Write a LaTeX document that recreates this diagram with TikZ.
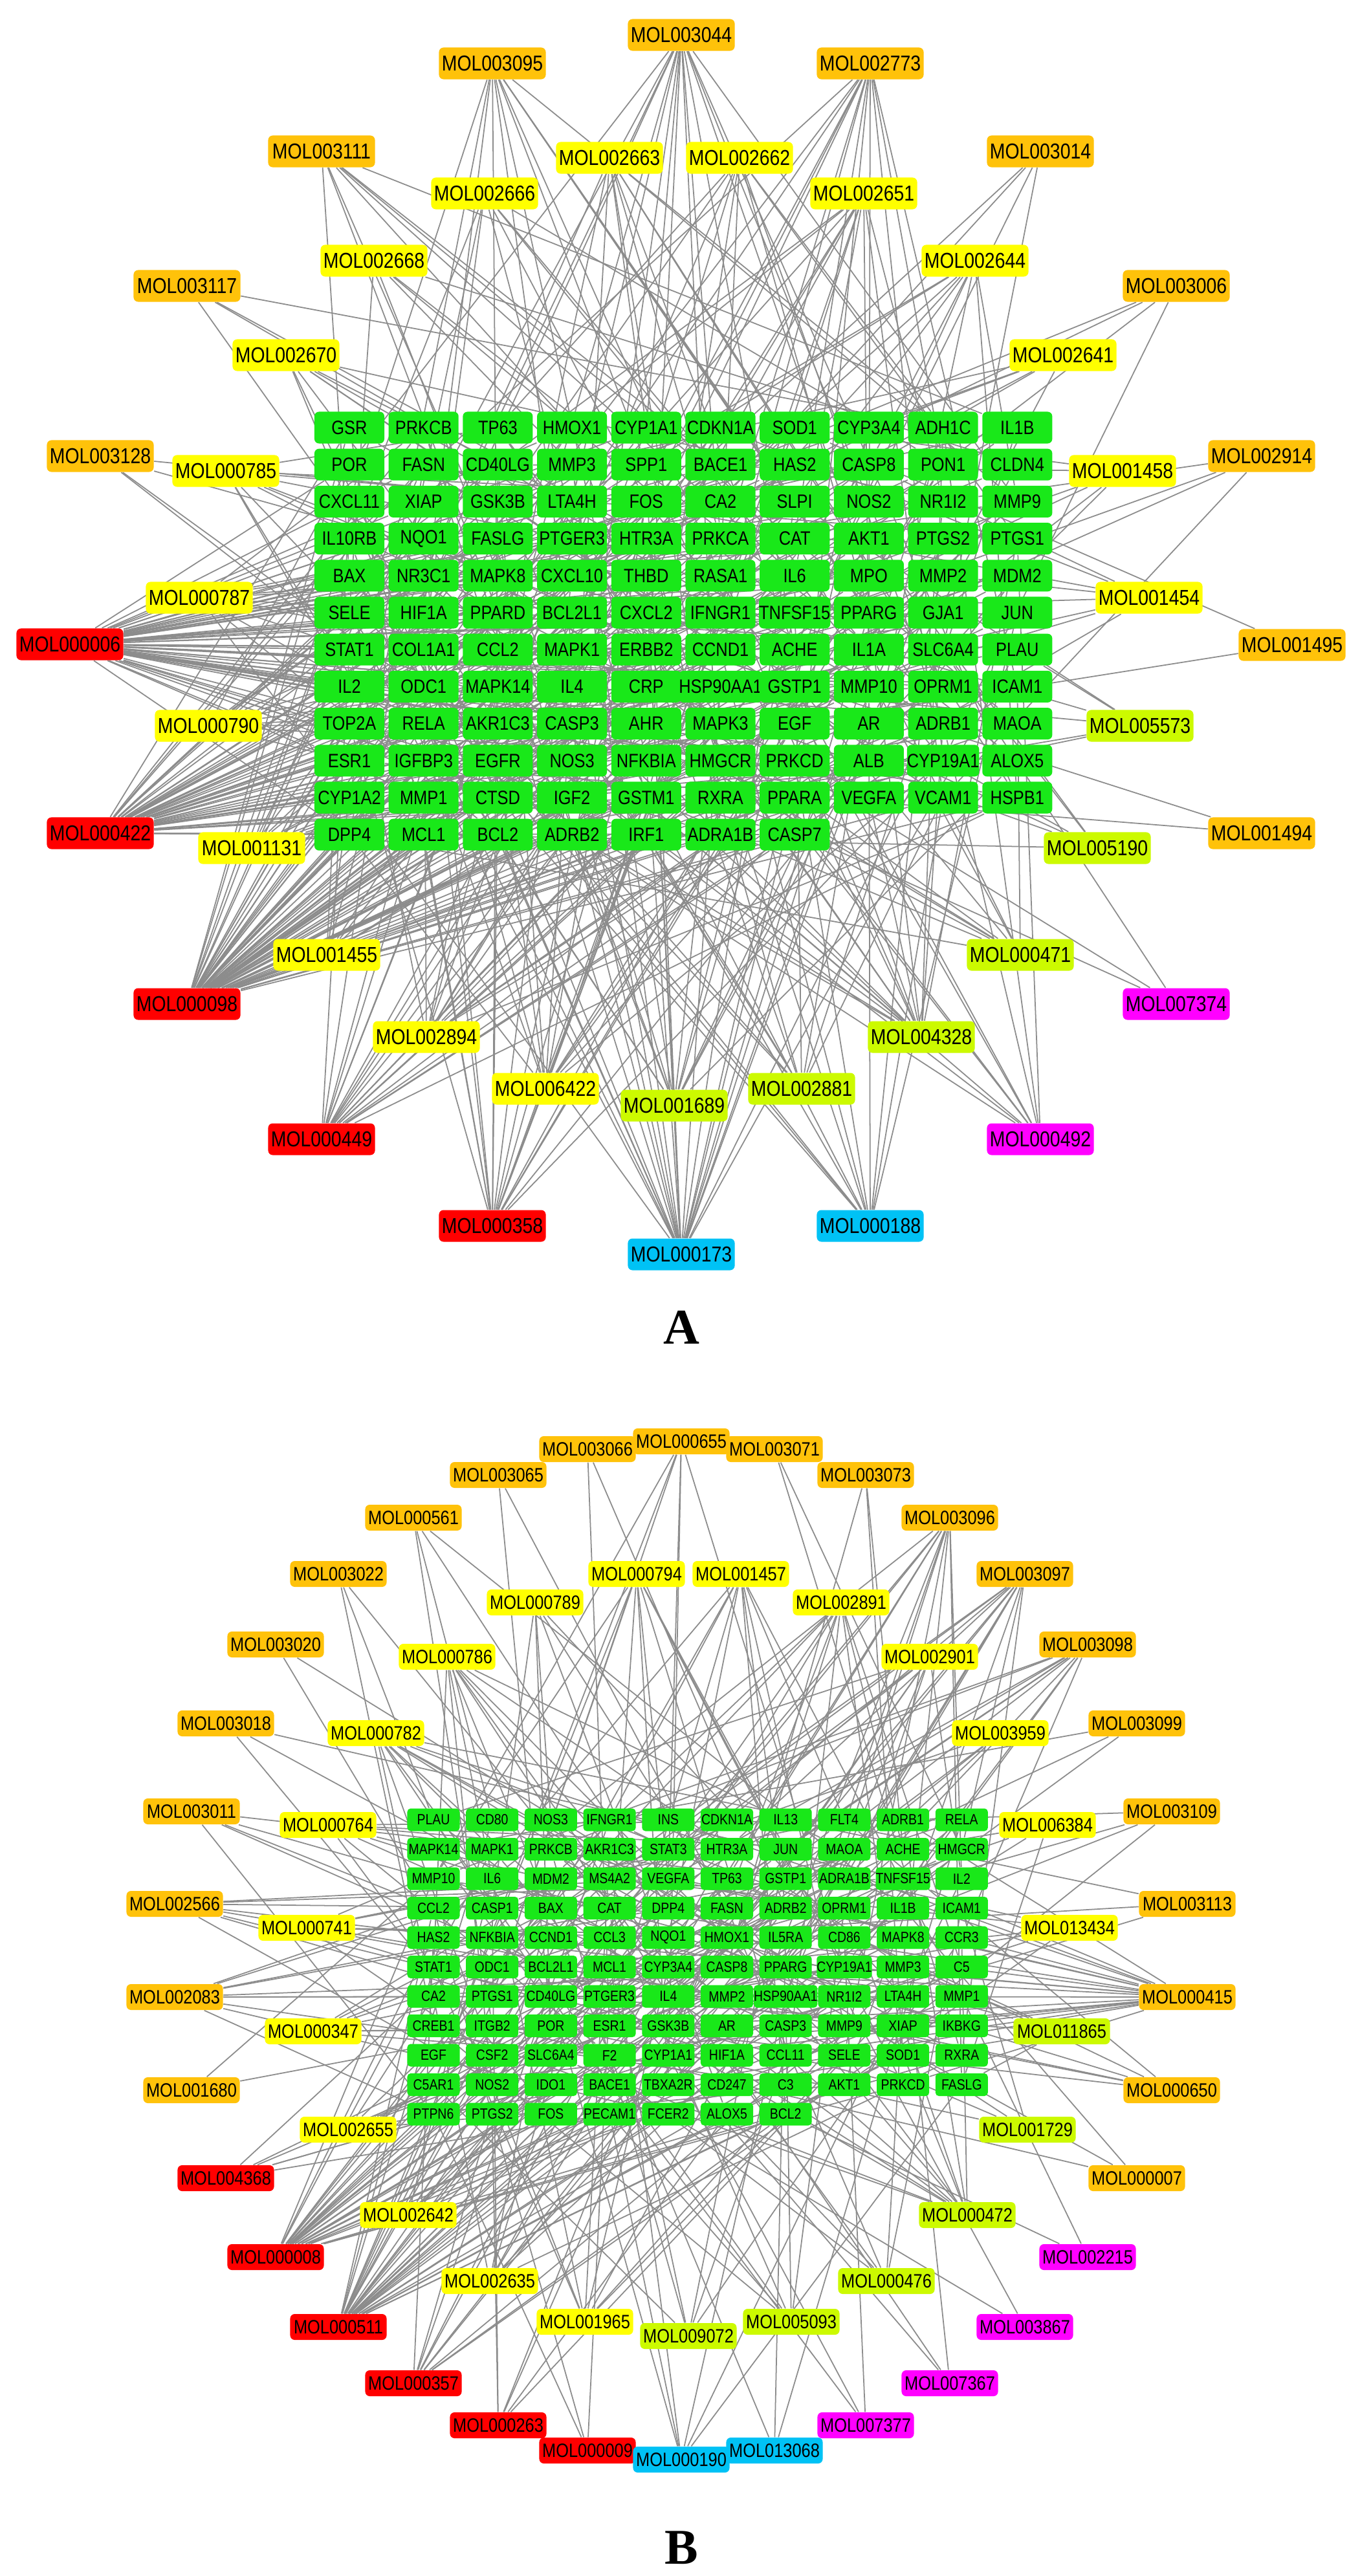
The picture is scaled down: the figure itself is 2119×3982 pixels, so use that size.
\documentclass[tikz,border=0pt]{standalone}
\usepackage{fontspec}
\newfontfamily\nar{Liberation Sans}[FakeStretch=0.85]
\newfontfamily\ser{Liberation Serif}
\pgfdeclarelayer{bg}
\pgfdeclarelayer{paper}
\pgfsetlayers{paper,bg,main}
\definecolor{gc}{RGB}{25,232,25}
\definecolor{org}{RGB}{255,194,10}
\definecolor{yel}{RGB}{255,255,0}
\definecolor{ygr}{RGB}{204,250,0}
\definecolor{red}{RGB}{255,0,0}
\definecolor{mag}{RGB}{255,0,255}
\definecolor{cya}{RGB}{0,194,245}
\definecolor{edg}{RGB}{140,140,140}
\tikzset{
  gA/.style={fill=gc,rounded corners=2pt,minimum width=1.08cm,minimum height=0.49cm,inner sep=0pt,font=\nar\fontsize{8.5}{9}\selectfont},
  mA/.style={rounded corners=2pt,minimum width=1.65cm,minimum height=0.49cm,inner sep=0pt,font=\nar\fontsize{9.5}{10}\selectfont},
  gB/.style={fill=gc,rounded corners=1.5pt,minimum width=0.81cm,minimum height=0.35cm,inner sep=0pt,font=\nar\fontsize{6.5}{7}\selectfont},
  mB/.style={rounded corners=2pt,minimum width=1.49cm,minimum height=0.40cm,inner sep=0pt,font=\nar\fontsize{8.5}{9}\selectfont},
  edge/.style={draw=edg,line width=0.5pt},
  lab/.style={font=\ser\bfseries\fontsize{22}{24}\selectfont}
}
\def\listA{MOL003044/1053/54/org/16,MOL003095/761/98/org/12,MOL002773/1345/98/org/14,MOL003111/497/234/org/8,MOL003014/1608/234/org/4,MOL002663/942/244/yel/10,MOL002662/1143/244/yel/10,MOL002666/749/299/yel/8,MOL002651/1335/299/yel/12,MOL002668/578/403/yel/6,MOL002644/1507/403/yel/10,MOL003117/289/442/org/4,MOL003006/1818/442/org/4,MOL002670/442/549/yel/8,MOL002641/1643/549/yel/6,MOL003128/155/705/org/4,MOL000785/349/728/yel/10,MOL001458/1735/728/yel/6,MOL002914/1950/705/org/4,MOL000787/308/924/yel/12,MOL001454/1776/924/yel/8,MOL000006/108/996/red/60,MOL001495/1997/997/org/2,MOL000790/322/1122/yel/12,MOL005573/1762/1122/ygr/6,MOL000422/155/1288/red/50,MOL001131/389/1311/yel/14,MOL005190/1696/1311/ygr/6,MOL001494/1950/1288/org/2,MOL001455/505/1476/yel/10,MOL000471/1577/1476/ygr/10,MOL000098/289/1552/red/70,MOL007374/1818/1552/mag/3,MOL002894/659/1603/yel/14,MOL004328/1424/1603/ygr/16,MOL006422/843/1683/yel/14,MOL002881/1239/1683/ygr/10,MOL001689/1042/1709/ygr/14,MOL000449/497/1761/red/20,MOL000492/1608/1761/mag/10,MOL000358/761/1895/red/18,MOL000188/1345/1895/cya/12,MOL000173/1053/1939/cya/24}
\def\listB{MOL000655/1053/2228/org/6,MOL003066/908/2240/org/2,MOL003071/1197/2240/org/2,MOL003065/770/2280/org/2,MOL003073/1338/2280/org/3,MOL000561/639/2346/org/4,MOL003096/1468/2346/org/12,MOL003022/523/2433/org/3,MOL000794/984/2433/yel/10,MOL001457/1145/2433/yel/10,MOL003097/1584/2433/org/12,MOL000789/827/2477/yel/6,MOL002891/1300/2477/yel/10,MOL003020/426/2542/org/2,MOL000786/691/2561/yel/10,MOL002901/1437/2561/yel/8,MOL003098/1681/2542/org/12,MOL003018/349/2664/org/3,MOL000782/581/2679/yel/12,MOL003959/1546/2679/yel/4,MOL003099/1757/2664/org/3,MOL003011/296/2800/org/5,MOL000764/507/2821/yel/8,MOL006384/1619/2821/yel/4,MOL003109/1811/2800/org/4,MOL002566/270/2943/org/8,MOL000741/474/2980/yel/8,MOL013434/1653/2980/yel/6,MOL003113/1835/2943/org/3,MOL002083/270/3087/org/10,MOL000347/484/3140/yel/8,MOL011865/1641/3140/ygr/6,MOL000415/1835/3087/org/20,MOL001680/296/3231/org/2,MOL000650/1811/3231/org/6,MOL002655/538/3292/yel/8,MOL001729/1588/3292/ygr/4,MOL004368/349/3367/red/6,MOL000007/1757/3367/org/3,MOL002642/631/3424/yel/8,MOL000472/1495/3424/ygr/12,MOL000008/426/3489/red/30,MOL002215/1681/3489/mag/2,MOL002635/757/3526/yel/8,MOL000476/1370/3526/ygr/6,MOL000511/523/3597/red/30,MOL003867/1584/3597/mag/2,MOL001965/904/3589/yel/8,MOL005093/1223/3589/ygr/6,MOL009072/1064/3611/ygr/6,MOL000357/639/3684/red/10,MOL007367/1468/3684/mag/3,MOL000263/770/3749/red/6,MOL007377/1338/3749/mag/3,MOL000009/908/3788/red/3,MOL013068/1197/3788/cya/3,MOL000190/1053/3802/cya/6}
\begin{document}
\begin{tikzpicture}[x=0.01cm,y=-0.01cm]
\begin{pgfonlayer}{paper}
\fill[white] (0,0) rectangle (2119,3982);
\end{pgfonlayer}
\useasboundingbox (0,0) rectangle (2119,3982);
\foreach \g [count=\i from 0] in {GSR,PRKCB,TP63,HMOX1,CYP1A1,CDKN1A,SOD1,CYP3A4,ADH1C,IL1B,
POR,FASN,CD40LG,MMP3,SPP1,BACE1,HAS2,CASP8,PON1,CLDN4,
CXCL11,XIAP,GSK3B,LTA4H,FOS,CA2,SLPI,NOS2,NR1I2,MMP9,
IL10RB,NQO1,FASLG,PTGER3,HTR3A,PRKCA,CAT,AKT1,PTGS2,PTGS1,
BAX,NR3C1,MAPK8,CXCL10,THBD,RASA1,IL6,MPO,MMP2,MDM2,
SELE,HIF1A,PPARD,BCL2L1,CXCL2,IFNGR1,TNFSF15,PPARG,GJA1,JUN,
STAT1,COL1A1,CCL2,MAPK1,ERBB2,CCND1,ACHE,IL1A,SLC6A4,PLAU,
IL2,ODC1,MAPK14,IL4,CRP,HSP90AA1,GSTP1,MMP10,OPRM1,ICAM1,
TOP2A,RELA,AKR1C3,CASP3,AHR,MAPK3,EGF,AR,ADRB1,MAOA,
ESR1,IGFBP3,EGFR,NOS3,NFKBIA,HMGCR,PRKCD,ALB,CYP19A1,ALOX5,
CYP1A2,MMP1,CTSD,IGF2,GSTM1,RXRA,PPARA,VEGFA,VCAM1,HSPB1,
DPP4,MCL1,BCL2,ADRB2,IRF1,ADRA1B,CASP7}{
  \pgfmathtruncatemacro\c{mod(\i,10)}
  \pgfmathtruncatemacro\r{div(\i,10)}
  \node[gA] (gA\i) at ({540+114.7*\c},{661+57.2*\r}) {\g};
}
\foreach \g [count=\i from 0] in {PLAU,CD80,NOS3,IFNGR1,INS,CDKN1A,IL13,FLT4,ADRB1,RELA,
MAPK14,MAPK1,PRKCB,AKR1C3,STAT3,HTR3A,JUN,MAOA,ACHE,HMGCR,
MMP10,IL6,MDM2,MS4A2,VEGFA,TP63,GSTP1,ADRA1B,TNFSF15,IL2,
CCL2,CASP1,BAX,CAT,DPP4,FASN,ADRB2,OPRM1,IL1B,ICAM1,
HAS2,NFKBIA,CCND1,CCL3,NQO1,HMOX1,IL5RA,CD86,MAPK8,CCR3,
STAT1,ODC1,BCL2L1,MCL1,CYP3A4,CASP8,PPARG,CYP19A1,MMP3,C5,
CA2,PTGS1,CD40LG,PTGER3,IL4,MMP2,HSP90AA1,NR1I2,LTA4H,MMP1,
CREB1,ITGB2,POR,ESR1,GSK3B,AR,CASP3,MMP9,XIAP,IKBKG,
EGF,CSF2,SLC6A4,F2,CYP1A1,HIF1A,CCL11,SELE,SOD1,RXRA,
C5AR1,NOS2,IDO1,BACE1,TBXA2R,CD247,C3,AKT1,PRKCD,FASLG,
PTPN6,PTGS2,FOS,PECAM1,FCER2,ALOX5,BCL2}{
  \pgfmathtruncatemacro\c{mod(\i,10)}
  \pgfmathtruncatemacro\r{div(\i,10)}
  \node[gB] (gB\i) at ({670+90.7*\c},{2813+45.5*\r}) {\g};
}
\foreach \n/\x/\y/\col/\d [count=\i] in \listA {\node[mA,fill=\col] (mA\i) at (\x,\y) {\n};}
\foreach \n/\x/\y/\col/\d [count=\i] in \listB {\node[mB,fill=\col] (mB\i) at (\x,\y) {\n};}
\begin{pgfonlayer}{bg}
\foreach \n/\x/\y/\col/\d [count=\i] in \listA {
  \foreach \k in {1,...,\d}{
    \pgfmathtruncatemacro\g{mod(\i*53+\k*37,117)}
    \draw[edge] (mA\i) -- (gA\g);
  }
}
\foreach \n/\x/\y/\col/\d [count=\i] in \listB {
  \foreach \k in {1,...,\d}{
    \pgfmathtruncatemacro\g{mod(\i*53+\k*37,107)}
    \draw[edge] (mB\i) -- (gB\g);
  }
}
\end{pgfonlayer}
\node[lab] (labA) at (1053,2052) {A};
\node[lab] (labB) at (1053,3938) {B};
\end{tikzpicture}
\end{document}
